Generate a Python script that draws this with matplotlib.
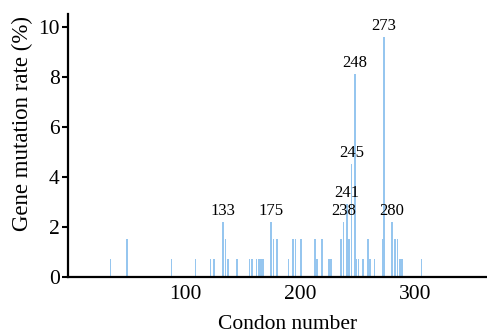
import matplotlib
matplotlib.use("Agg")
import matplotlib.pyplot as plt

# codon positions and mutation rates (%)
codons = [35, 49, 88, 109, 122, 125, 133, 135, 137, 145, 156, 158, 162, 164,
          166, 168, 175, 177, 180, 190, 194, 196, 201, 213, 215, 219, 225, 227,
          236, 238, 241, 243, 245, 248, 249, 251, 255, 259, 261, 265, 272, 273,
          280, 283, 285, 287, 289, 306]
rates = [0.7, 1.5, 0.7, 0.7, 0.7, 0.7, 2.2, 1.5, 0.7, 0.7, 0.7, 0.7, 0.7, 0.7,
         0.7, 0.7, 2.2, 1.5, 1.5, 0.7, 1.5, 1.5, 1.5, 1.5, 0.7, 1.5, 0.7, 0.7,
         1.5, 2.2, 2.9, 1.5, 4.5, 8.1, 0.7, 0.7, 0.7, 1.5, 0.7, 0.7, 1.5, 9.6,
         2.2, 1.5, 1.5, 0.7, 0.7, 0.7]

hotspots = [133, 175, 238, 241, 245, 248, 273, 280]
xticks = [100, 200, 300]
yticks = [0, 2, 4, 6, 8, 10]

plt.rcParams['font.family'] = ['Liberation Serif', 'DejaVu Serif']

fig = plt.figure(figsize=(4.87, 3.36), dpi=100)
ax = fig.add_axes([0.14, 0.1756, 0.86, 0.782])

ax.bar(codons, rates, width=1.5, color='#96c6ef', edgecolor='none')

rate_of = dict(zip(codons, rates))
for c in hotspots:
    ax.text(c, rate_of[c] + 0.12, str(c), ha='center', va='bottom', fontsize=12)

ax.set_xlim(-2, 363)
ax.set_ylim(0, 10.5)
ax.set_xticks(xticks)
ax.set_yticks(yticks)

for s in ['top', 'right']:
    ax.spines[s].set_visible(False)
for s in ['left', 'bottom']:
    ax.spines[s].set_linewidth(1.6)

ax.tick_params(axis='y', direction='out', length=4, width=1.5, labelsize=15.5, pad=2)
ax.tick_params(axis='x', length=0, labelsize=15.5, pad=6)

ax.set_ylabel('Gene mutation rate (%)', fontsize=16.5)
ax.set_xlabel('Condon number', fontsize=15.5)
ax.yaxis.set_label_coords(-0.085, 0.585)
ax.xaxis.set_label_coords(0.525, -0.143)

fig.savefig('out.png', dpi=100)
